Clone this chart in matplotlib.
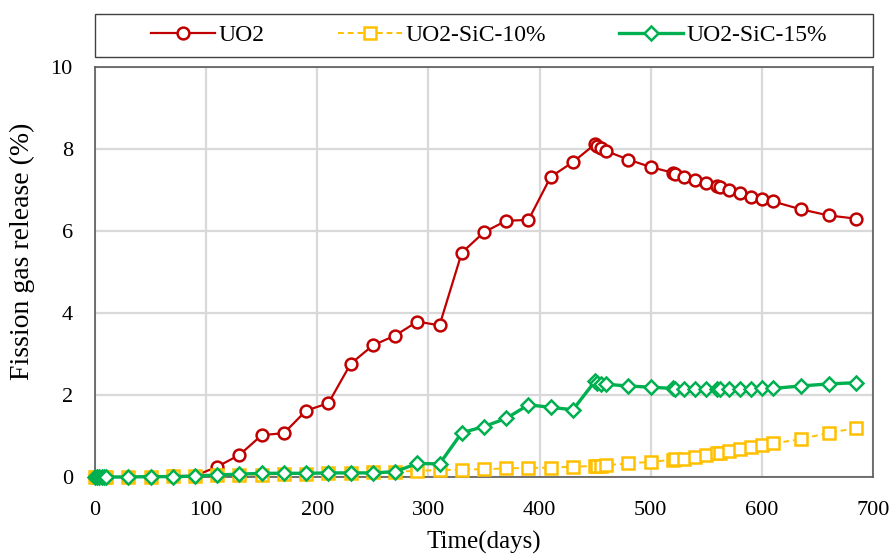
import matplotlib
matplotlib.use("Agg")
import matplotlib.pyplot as plt
from matplotlib.patches import Rectangle

plt.rcParams['font.family'] = ['Liberation Serif', 'DejaVu Serif']

# Irradiation time (days)
days = [0, 2, 4, 6, 8, 10, 30, 50, 70, 90, 110, 130, 150, 170, 190, 210, 230,
        250, 270, 290, 310, 330, 350, 370, 390, 410, 430, 450, 452, 455, 460,
        480, 500, 520, 522, 530, 540, 550, 560, 562, 570, 580, 590, 600, 610,
        635, 660, 685]

# Fission gas release (%)
fgr_uo2 = [0, 0, 0, 0, 0, 0, 0, 0.01, 0.02, 0.03, 0.25, 0.54, 1.02, 1.07, 1.62,
           1.80, 2.76, 3.21, 3.45, 3.79, 3.70, 5.47, 5.97, 6.25, 6.27, 7.32,
           7.68, 8.12, 8.08, 8.02, 7.95, 7.74, 7.56, 7.42, 7.40, 7.31, 7.24,
           7.17, 7.09, 7.07, 7.00, 6.92, 6.84, 6.78, 6.72, 6.53, 6.38, 6.30]

fgr_sic10 = [0, 0, 0, 0, 0, 0, 0, 0.01, 0.02, 0.03, 0.04, 0.05, 0.06, 0.07,
             0.08, 0.09, 0.10, 0.11, 0.13, 0.15, 0.17, 0.18, 0.19, 0.21, 0.22,
             0.23, 0.25, 0.27, 0.28, 0.28, 0.29, 0.33, 0.37, 0.42, 0.43, 0.45,
             0.49, 0.54, 0.58, 0.59, 0.64, 0.69, 0.74, 0.78, 0.82, 0.92, 1.08,
             1.19]

fgr_sic15 = [0, 0, 0, 0, 0, 0, 0, 0.01, 0.01, 0.02, 0.05, 0.07, 0.09, 0.09,
             0.09, 0.10, 0.10, 0.10, 0.13, 0.33, 0.32, 1.08, 1.23, 1.43, 1.76,
             1.70, 1.64, 2.34, 2.30, 2.28, 2.26, 2.22, 2.19, 2.16, 2.15, 2.14,
             2.14, 2.14, 2.14, 2.14, 2.14, 2.14, 2.15, 2.16, 2.16, 2.22, 2.27,
             2.30]

labels = ["UO2", "UO2-SiC-10%", "UO2-SiC-15%"]
x_ticks = [0, 100, 200, 300, 400, 500, 600, 700]
y_ticks = [0, 2, 4, 6, 8, 10]

W, H = 896, 556
fig = plt.figure(figsize=(W / 100, H / 100), dpi=100)
ax = fig.add_axes([95 / W, 1 - 477 / H, 778 / W, 410 / H])

l1, = ax.plot(days, fgr_uo2, color='#C00000', lw=1.6, marker='o', ms=8.5,
              mfc='white', mec='#C00000', mew=1.8, clip_on=False, zorder=3)
l2, = ax.plot(days, fgr_sic10, color='#FFC000', lw=1.4, ls=(0, (3, 2)),
              marker='s', ms=8.5, mfc='white', mec='#FFC000', mew=1.8,
              clip_on=False, zorder=4)
l3, = ax.plot(days, fgr_sic15, color='#00B050', lw=2.4, marker='D', ms=7,
              mfc='white', mec='#00B050', mew=1.8, clip_on=False, zorder=5)

ax.set_xlim(0, 700)
ax.set_ylim(0, 10)
ax.set_xticks(x_ticks)
ax.set_yticks(y_ticks)
ax.grid(True, color='#D9D9D9', lw=1.6)
ax.set_axisbelow(True)
ax.tick_params(axis='both', length=0, labelsize=16, colors='black')
ax.tick_params(axis='x', pad=17)
ax.tick_params(axis='y', pad=16)
for s in ax.spines.values():
    s.set_color('#595959')
    s.set_linewidth(1.2)

fig.text(484 / W, 1 - 542 / H, "Time(days)", ha='center', va='center',
         fontsize=18)
fig.text(22 / W, 1 - 251 / H, "Fission gas release (%)", ha='center',
         va='center', rotation=90, fontsize=20)

# Legend box above the plot area
fig.patches.append(Rectangle((95 / W, 1 - 57 / H), 778 / W, 43 / H,
                             transform=fig.transFigure, fill=False,
                             edgecolor='#404040', lw=1.0))
fig.legend([l1, l2, l3], labels, loc='center', ncol=3, frameon=False,
           bbox_to_anchor=(489 / W, 1 - 35 / H), fontsize=17,
           handlelength=2.7, handletextpad=0.15, columnspacing=3.1,
           borderaxespad=0)

fig.savefig("out.png", dpi=100)
